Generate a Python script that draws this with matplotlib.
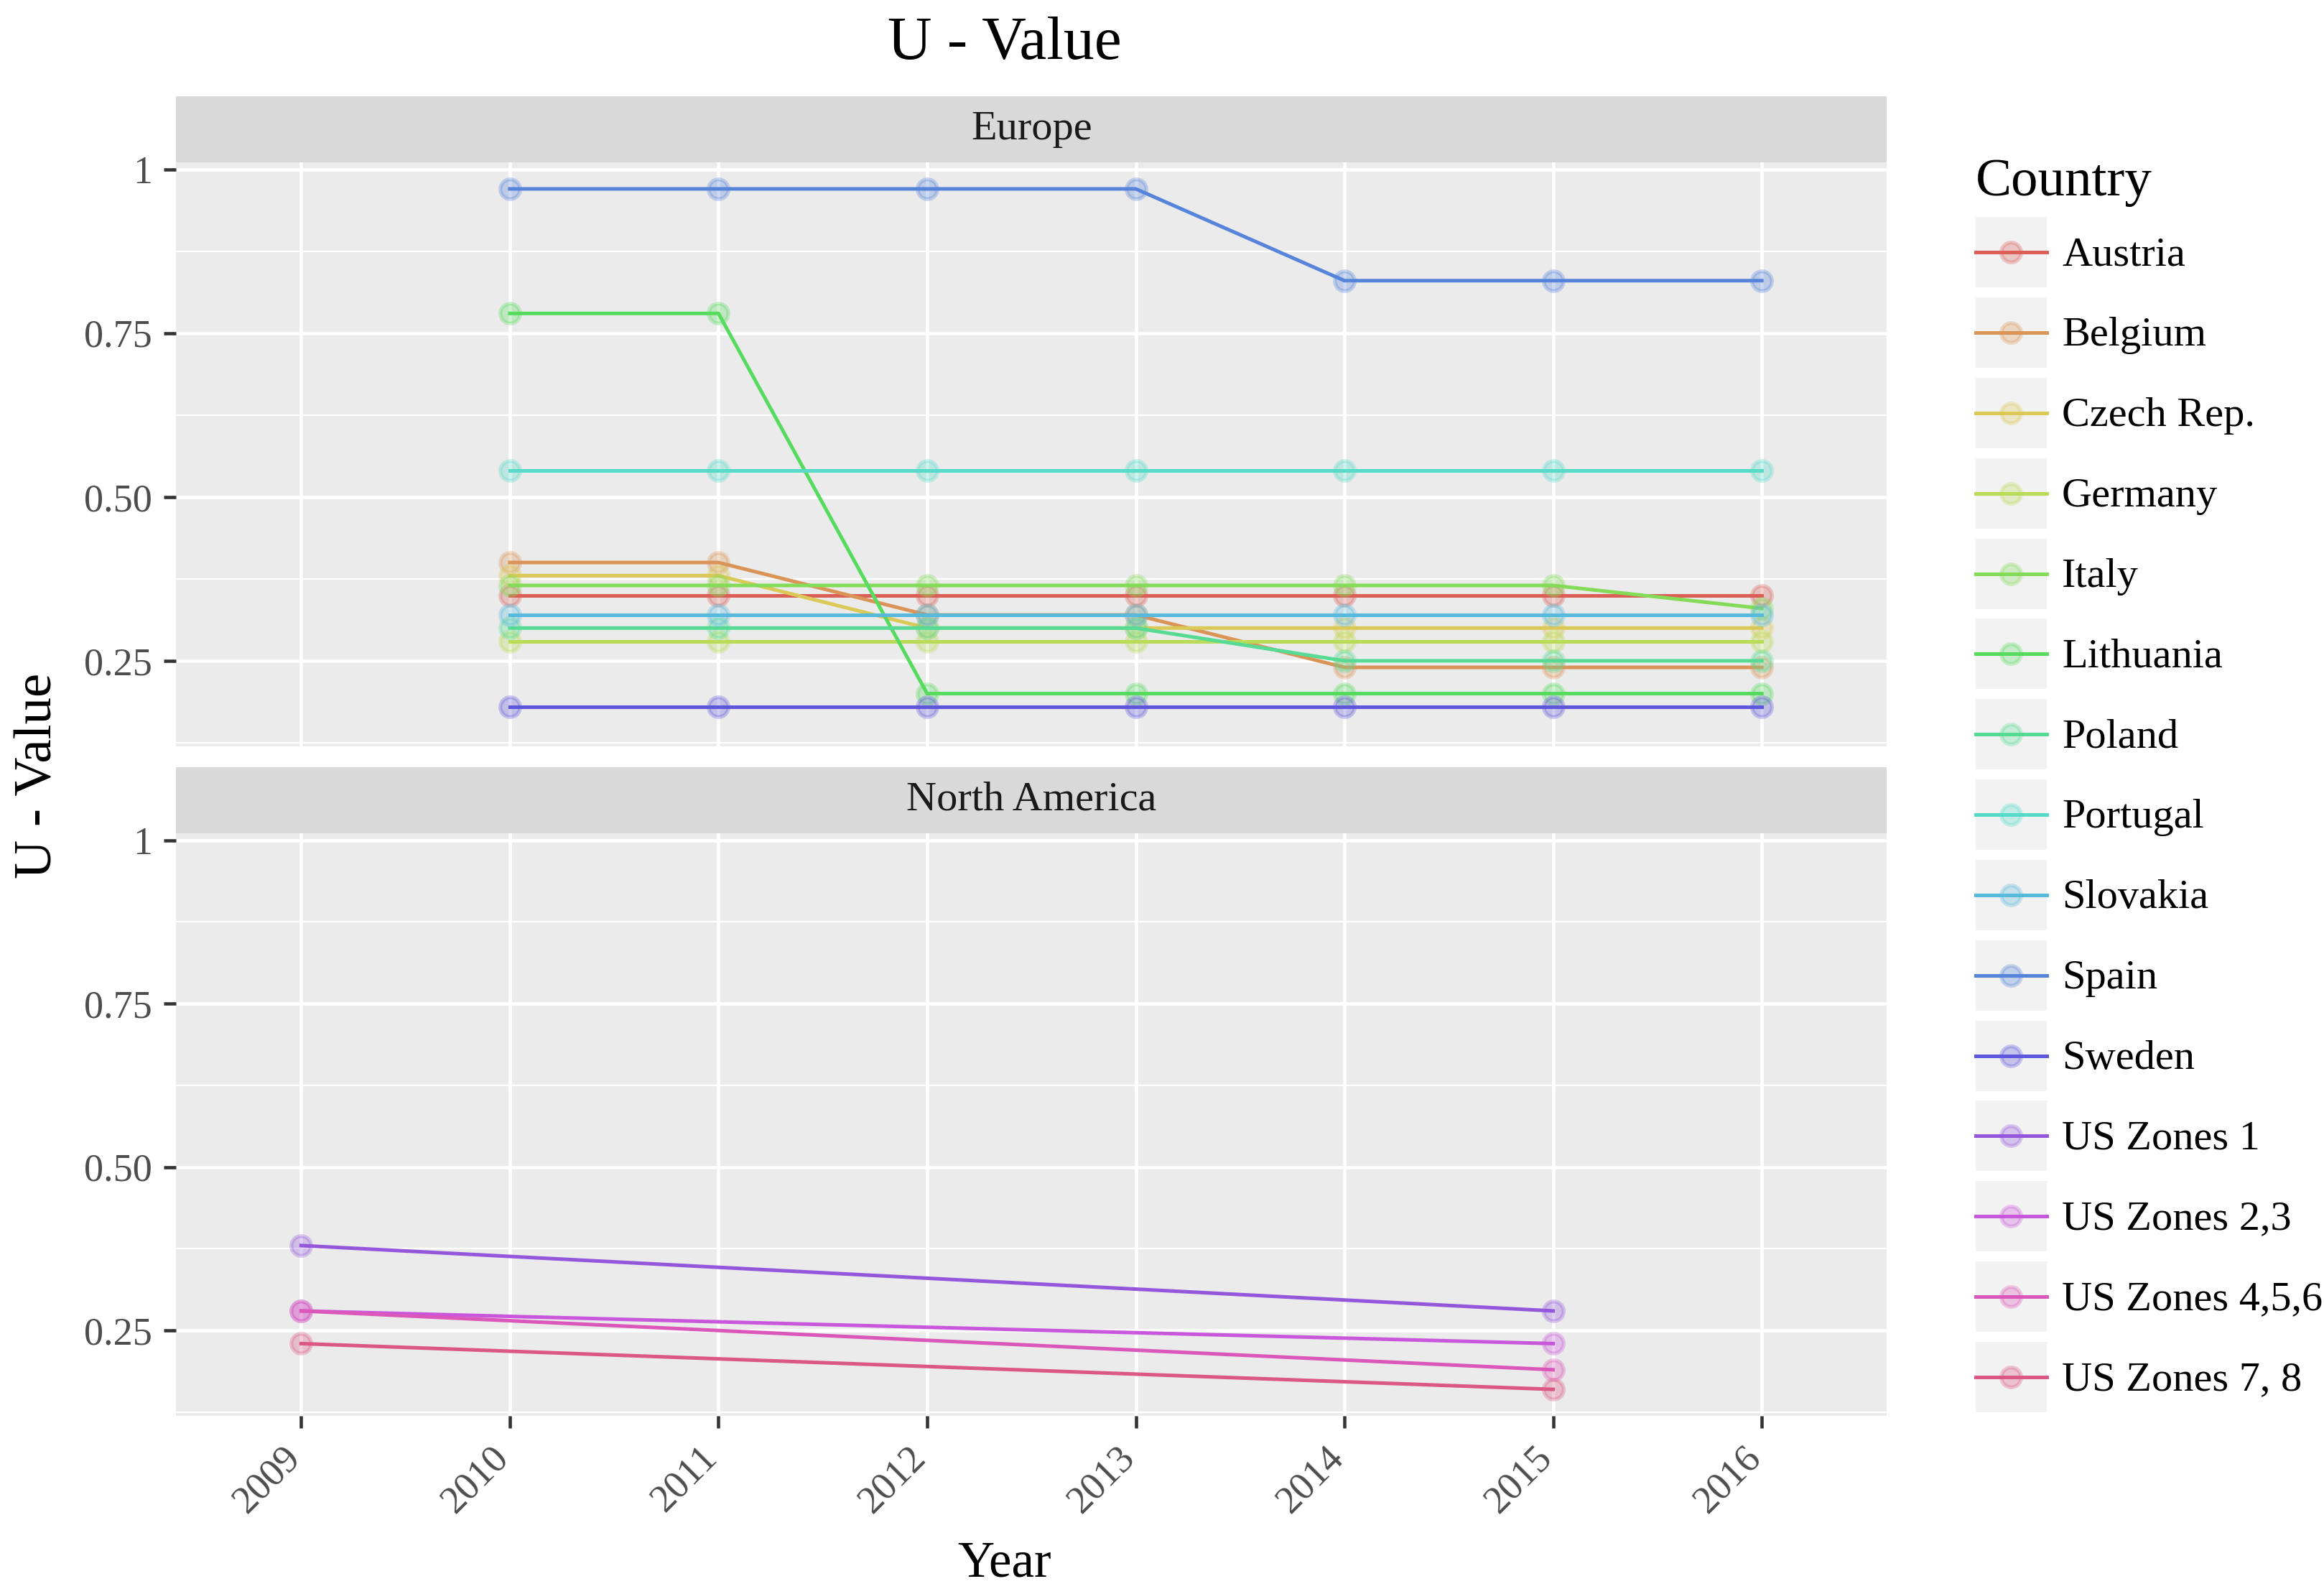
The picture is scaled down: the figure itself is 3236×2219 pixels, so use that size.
import colorsys
import matplotlib
matplotlib.use("Agg")
import matplotlib.pyplot as plt
from matplotlib.lines import Line2D
from matplotlib.patches import Rectangle
from matplotlib.legend_handler import HandlerBase
from matplotlib.transforms import ScaledTranslation

plt.rcParams['font.family'] = ['Liberation Serif', 'DejaVu Serif']

# ---------------- data ----------------
years_all = [2009, 2010, 2011, 2012, 2013, 2014, 2015, 2016]
year_labels = ["2009", "2010", "2011", "2012", "2013", "2014", "2015", "2016"]

years_eu = [2010, 2011, 2012, 2013, 2014, 2015, 2016]
austria = [0.35, 0.35, 0.35, 0.35, 0.35, 0.35, 0.35]
belgium = [0.40, 0.40, 0.32, 0.32, 0.24, 0.24, 0.24]
czech = [0.38, 0.38, 0.30, 0.30, 0.30, 0.30, 0.30]
germany = [0.28, 0.28, 0.28, 0.28, 0.28, 0.28, 0.28]
italy = [0.365, 0.365, 0.365, 0.365, 0.365, 0.365, 0.33]
lithuania = [0.78, 0.78, 0.20, 0.20, 0.20, 0.20, 0.20]
poland = [0.30, 0.30, 0.30, 0.30, 0.25, 0.25, 0.25]
portugal = [0.54, 0.54, 0.54, 0.54, 0.54, 0.54, 0.54]
slovakia = [0.32, 0.32, 0.32, 0.32, 0.32, 0.32, 0.32]
spain = [0.97, 0.97, 0.97, 0.97, 0.83, 0.83, 0.83]
sweden = [0.18, 0.18, 0.18, 0.18, 0.18, 0.18, 0.18]

years_na = [2009, 2015]
us_zones_1 = [0.38, 0.28]
us_zones_23 = [0.28, 0.23]
us_zones_456 = [0.28, 0.19]
us_zones_78 = [0.23, 0.16]

countries = ["Austria", "Belgium", "Czech Rep.", "Germany", "Italy", "Lithuania",
             "Poland", "Portugal", "Slovakia", "Spain", "Sweden", "US Zones 1",
             "US Zones 2,3", "US Zones 4,5,6", "US Zones 7, 8"]
regions = ["Europe", "Europe", "Europe", "Europe", "Europe", "Europe", "Europe",
           "Europe", "Europe", "Europe", "Europe", "North America", "North America",
           "North America", "North America"]
series_x = [years_eu] * 11 + [years_na] * 4
series_y = [austria, belgium, czech, germany, italy, lithuania, poland, portugal,
            slovakia, spain, sweden, us_zones_1, us_zones_23, us_zones_456, us_zones_78]
facets = ["Europe", "North America"]

y_major = [0.25, 0.50, 0.75, 1.0]
y_major_labels = ["0.25", "0.50", "0.75", "1"]
y_minor = [0.125, 0.375, 0.625, 0.875]

# ---------------- style ----------------
W, H = 3237, 2219
DPI = 300
fig = plt.figure(figsize=(W / DPI, H / DPI), dpi=DPI)

n = len(countries)
colors = [colorsys.hls_to_rgb((0.01 + i / n) % 1.0, 0.6, 0.65) for i in range(n)]

PANEL_BG = "#EBEBEB"
STRIP_BG = "#D9D9D9"
KEY_BG = "#F2F2F2"
LW = 1.2
MS = 6.6
MEW = 1.3
ALPHA = 0.3

left, right = 245 / W, 2627.5 / W
panel_px = [(226, 1039), (1160, 1971)]
strip_px = [(134, 226), (1068, 1160)]

all_vals = [v for s in series_y for v in s]
ymin, ymax = min(all_vals), max(all_vals)
yexp = 0.05 * (ymax - ymin)
ylim = (ymin - yexp, ymax + yexp)
xlim = (years_all[0] - 0.6, years_all[-1] + 0.6)

handles = {}
axes = []
for fi, facet in enumerate(facets):
    top, bot = panel_px[fi]
    ax = fig.add_axes([left, 1 - bot / H, right - left, (bot - top) / H])
    ax.set_facecolor(PANEL_BG)
    for sp in ax.spines.values():
        sp.set_visible(False)
    ax.set_xlim(*xlim)
    ax.set_ylim(*ylim)
    ax.set_yticks(y_major)
    ax.set_yticklabels(y_major_labels)
    ax.set_yticks(y_minor, minor=True)
    ax.set_xticks(years_all)
    ax.grid(which="major", color="white", lw=1.1)
    ax.grid(which="minor", axis="y", color="white", lw=0.55)
    ax.set_axisbelow(True)
    ax.tick_params(axis="y", which="major", length=4, width=1.1, color="#333333",
                   labelcolor="#4D4D4D", labelsize=13, pad=3.9)
    ax.tick_params(axis="y", which="minor", length=0)
    if fi == len(facets) - 1:
        ax.set_xticklabels(year_labels)
        ax.tick_params(axis="x", length=4, width=1.1, color="#333333",
                       labelcolor="#4D4D4D", labelsize=13, pad=3.8)
        off = ScaledTranslation(-27 / DPI, 0, fig.dpi_scale_trans)
        for lab in ax.get_xticklabels():
            lab.set_rotation(45)
            lab.set_ha("right")
            lab.set_va("top")
            lab.set_rotation_mode("anchor")
            lab.set_transform(lab.get_transform() + off)
    else:
        ax.tick_params(axis="x", length=0, labelbottom=False)

    for i in range(n):
        if regions[i] != facet:
            continue
        c = colors[i]
        ln, = ax.plot(series_x[i], series_y[i], color=c, lw=LW, marker="o", ms=MS,
                      mfc=(*c, ALPHA), mec=(*c, ALPHA), mew=MEW, zorder=3 + i * 0.01)
        handles[i] = ln
    axes.append(ax)

    st, sb = strip_px[fi]
    sax = fig.add_axes([left, 1 - sb / H, right - left, (sb - st) / H])
    sax.set_facecolor(STRIP_BG)
    for sp in sax.spines.values():
        sp.set_visible(False)
    sax.set_xticks([])
    sax.set_yticks([])
    sax.text(0.5, 0.5, facet, transform=sax.transAxes, ha="center", va="center",
             fontsize=14, color="#1A1A1A")

# titles
fig.text(0.432, 1 - 82 / H, "U - Value", ha="center", va="baseline", fontsize=20.5,
         color="black")
fig.text(0.432, 0.011, "Year", ha="center", va="baseline", fontsize=17, color="black")
fig.text(0.0167, 0.5133, "U - Value", rotation=90, ha="center", va="center",
         fontsize=18, color="black")


class KeyHandler(HandlerBase):
    def create_artists(self, legend, orig_handle, xdescent, ydescent, width, height,
                       fontsize, trans):
        yc = height / 2 - ydescent
        rect = Rectangle((-xdescent, -ydescent), width, height, facecolor=KEY_BG,
                         edgecolor="none", transform=trans)
        line = Line2D([-xdescent, -xdescent + width], [yc, yc],
                      color=orig_handle.get_color(), lw=orig_handle.get_linewidth(),
                      transform=trans)
        mk = Line2D([-xdescent + width / 2], [yc], linestyle="none", marker="o",
                    ms=orig_handle.get_markersize(),
                    mfc=orig_handle.get_markerfacecolor(),
                    mec=orig_handle.get_markeredgecolor(),
                    mew=orig_handle.get_markeredgewidth(), transform=trans)
        return [rect, line, mk]


leg = fig.legend([handles[i] for i in range(n)], countries, loc="upper left",
                 bbox_to_anchor=(2751 / W, 1 - 221 / H), frameon=False, fontsize=14,
                 title="Country", title_fontsize=18, alignment="left",
                 handlelength=1.697, handleheight=2.206, labelspacing=0.238,
                 handletextpad=0.36, borderpad=0, borderaxespad=0,
                 handler_map={Line2D: KeyHandler()})

fig.savefig("out.png", dpi=DPI)
